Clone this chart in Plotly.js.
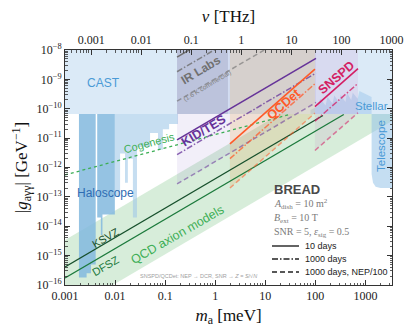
<!DOCTYPE html>
<html>
<head>
<meta charset="utf-8">
<script src="https://cdn.plot.ly/plotly-3.0.1.min.js"></script>
<style>
  html, body { margin: 0; padding: 0; background: #fff; }
  #bread { width: 407px; height: 333px; }
</style>
</head>
<body>
<div id="bread"></div>
<script>
// BREAD sensitivity plot: axion-photon coupling vs axion mass

// axes
var massTicks = [0.001, 0.01, 0.1, 1, 10, 100, 1000];
var massTickText = ['0.001', '0.01', '0.1', '1', '10', '100', '1000'];
var freqTicks = [0.001, 0.01, 0.1, 1, 10, 100, 1000];
var freqTickText = ['0.001', '0.01', '0.1', '1', '10', '100', '1000'];
var gTicks = [1e-16, 1e-15, 1e-14, 1e-13, 1e-12, 1e-11, 1e-10, 1e-9, 1e-8];
var gTickText = ['10<sup>−16</sup>', '10<sup>−15</sup>', '10<sup>−14</sup>', '10<sup>−13</sup>',
  '10<sup>−12</sup>', '10<sup>−11</sup>', '10<sup>−10</sup>', '10<sup>−9</sup>', '10<sup>−8</sup>'];
var massRange = [0.001, 3400];
var thzPerMeV = 0.3;

// existing limits
var castM = [0.001, 3400, 3400, 0.001];
var castG = [6.6e-11, 6.6e-11, 1e-7, 1e-7];

var haloDarkEdges = [0.0019, 0.0027, 0.0033, 0.0041, 0.0044, 0.0052, 0.0056, 0.0099];
var haloDarkFloor = [1.8e-16, 2.5e-16, 5e-16, 6.6e-11, 2e-14, 5e-15, 2.5e-14];
var haloLightEdges = [0.0099, 0.0126, 0.0158, 0.018, 0.0227, 0.0274, 0.05, 0.072, 0.09, 0.12, 0.18];
var haloLightFloor = [1e-13, 3e-12, 3e-13, 2e-12, 2e-14, 5e-12, 1.5e-11, 4e-12, 2e-11, 3e-11];

var telescopeM = [1330, 1330, 1420, 1600, 2000, 3400, 3400];
var telescopeG = [6.6e-11, 6e-13, 3e-13, 2.2e-13, 2e-13, 2e-13, 6.6e-11];

var stellarM = [80, 110, 125, 160, 175, 220, 240, 300, 320, 400, 430, 520, 560, 700, 760, 1330];
var stellarTop = [9e-11, 1.2e-10, 2.2e-10, 1.3e-10, 2.5e-10, 1.5e-10, 2.8e-10, 1.6e-10,
  3e-10, 1.7e-10, 3.5e-10, 2e-10, 3.5e-10, 2.2e-10, 4e-10, 2.5e-10];
var stellarFloor = 6.6e-11;

var cogenesisM = [0.001, 30];
var cogenesisG = [5.6e-13, 6.3e-11];

// QCD axion models
var qcdBandM = [0.001, 19.5, 3400, 3400, 0.001];
var qcdBandG = [3.4e-15, 6.6e-11, 6.6e-11, 3.8e-11, 1.1e-17];
var ksvzM = [0.001, 142];
var ksvzG = [4.1e-16, 5.9e-11];
var dfszM = [0.001, 370];
var dfszG = [1.74e-16, 6.4e-11];

// BREAD projections (10 days, 1000 days, 1000 days NEP/100)
var irLabsBoxM = [0.173, 1.8, 1.8, 0.173];
var irLabsBoxG = [6.6e-11, 6.6e-11, 1e-7, 1e-7];
var irLabsM = [0.173, 103];
var irLabs10 = [5.75e-9, 3.4e-6];
var irLabs1000 = [1.82e-9, 1.08e-6];
var irLabsNep = [1.82e-10, 1.08e-7];

var kidM = [0.173, 103];
var kid10 = [8.7e-12, 5.2e-9];
var kid1000 = [2.75e-12, 1.64e-9];
var kidNep = [2.75e-13, 1.64e-10];

var qcdetM = [1.97, 98.3];
var qcdet10 = [6.4e-12, 2.25e-9];
var qcdet1000 = [2.0e-12, 7.1e-10];
var qcdetNep = [2.0e-13, 7.1e-11];

var snspdM = [98.3, 711];
var snspd10 = [1.19e-10, 2.32e-9];
var snspd1000 = [3.8e-11, 7.3e-10];
var snspdNep = [3.8e-12, 7.3e-11];

// ---------------------------------------------------------------

var lg = Math.log10;
var serif = 'Liberation Serif, DejaVu Serif, serif';
var sans = 'Liberation Sans, Arial, sans-serif';

function steps(edges, floors, top) {
  var xs = [], ys = [];
  for (var i = 0; i < floors.length; i++) {
    xs.push(edges[i], edges[i + 1]);
    ys.push(floors[i], floors[i]);
  }
  xs.push(edges[edges.length - 1], edges[0]);
  ys.push(top, top);
  return {x: xs, y: ys};
}

function area(x, y, color) {
  return {x: x, y: y, type: 'scatter', mode: 'lines', fill: 'toself',
    fillcolor: color, line: {width: 0}, hoverinfo: 'skip', showlegend: false};
}

function curve(x, y, color, dash, width, opacity) {
  return {x: x, y: y, type: 'scatter', mode: 'lines',
    line: {color: color, dash: dash || 'solid', width: width || 1.5},
    opacity: opacity || 1, hoverinfo: 'skip', showlegend: false};
}

var dashDot = '6px,2px,1.5px,2px';
var dashed = '5px,3px';

var haloDark = steps(haloDarkEdges, haloDarkFloor, 6.6e-11);
var haloLight = steps(haloLightEdges, haloLightFloor, 6.6e-11);
var stellar = {
  x: stellarM.concat([1330, 80]),
  y: stellarTop.concat([stellarFloor, stellarFloor])
};

var purple = '#663399', orange = '#ff5a28', crimson = '#d41e64', grey = '#6e6e6e';

var data = [
  area(qcdBandM, qcdBandG, 'rgba(130,200,140,0.32)'),
  area(haloLight.x, haloLight.y, 'rgba(160,200,232,0.6)'),
  area(haloDark.x, haloDark.y, 'rgba(130,185,222,0.85)'),
  area(castM, castG, 'rgba(160,200,235,0.38)'),
  area(stellar.x, stellar.y, 'rgba(150,195,232,0.45)'),
  area(telescopeM, telescopeG, 'rgba(150,195,232,0.55)'),
  area(irLabsBoxM, irLabsBoxG, 'rgba(110,110,140,0.22)'),
  area(kidM.concat([kidM[1], kidM[0]]), kidNep.concat([1e-7, 1e-7]), 'rgba(140,110,200,0.11)'),
  area(qcdetM.concat([qcdetM[1], qcdetM[0]]), qcdetNep.concat([1e-7, 1e-7]), 'rgba(230,170,90,0.24)'),
  area(snspdM.concat([snspdM[1], snspdM[0]]), snspdNep.concat([1e-7, 1e-7]), 'rgba(200,110,190,0.12)'),

  curve(cogenesisM, cogenesisG, '#3cae55', 'dot', 1.3),
  curve(ksvzM, ksvzG, '#17502c', 'solid', 1.3),
  curve(dfszM, dfszG, '#1c7a3c', 'solid', 1.3),

  curve(irLabsM, irLabs10, grey, 'solid', 1.5),
  curve(irLabsM, irLabs1000, grey, dashDot, 1.5, 0.8),
  curve(irLabsM, irLabsNep, grey, dashed, 1.5, 0.6),

  curve(kidM, kid10, purple, 'solid', 1.6),
  curve(kidM, kid1000, purple, dashDot, 1.5, 0.75),
  curve(kidM, kidNep, purple, dashed, 1.5, 0.55),

  curve(qcdetM, qcdet10, orange, 'solid', 1.6),
  curve(qcdetM, qcdet1000, orange, dashDot, 1.5, 0.75),
  curve(qcdetM, qcdetNep, orange, dashed, 1.5, 0.55),

  curve(snspdM, snspd10, crimson, 'solid', 1.6),
  curve(snspdM, snspd1000, crimson, dashDot, 1.5, 0.75),
  curve(snspdM, snspdNep, crimson, dashed, 1.5, 0.55),

  // anchors the top frequency axis
  {x: [1], y: [1e-12], xaxis: 'x2', type: 'scatter', mode: 'markers',
    marker: {opacity: 0}, hoverinfo: 'skip', showlegend: false}
];

// label positions given in pixels of the 407x333 figure
function at(px, py) {
  return {xref: 'paper', yref: 'paper', x: (px - 65) / 327, y: 1 - (py - 50) / 235};
}
function label(px, py, text, color, size, angle, extra) {
  var a = at(px, py);
  a.text = text;
  a.showarrow = false;
  a.xanchor = 'center';
  a.yanchor = 'middle';
  a.textangle = angle || 0;
  a.font = {family: sans, size: size, color: color};
  for (var k in extra || {}) a[k] = extra[k];
  return a;
}

var blue = '#4a9ad6';
var left = {xanchor: 'left'};
var annotations = [
  label(103, 83, 'CAST', blue, 12),
  label(105, 193, 'Haloscope', '#2f6db3', 12),
  label(149, 143, 'Cogenesis', '#3cae55', 11, -15),
  label(201, 70, '<b>IR Labs</b>', '#707070', 12, -31),
  label(207, 86, '(1.6 K commercial)', '#808080', 6.5, -31),
  label(203, 131, '<b>KID/TES</b>', purple, 12.5, -31),
  label(284, 104, '<b>QCDet</b>', orange, 12.5, -41),
  label(336, 78, '<b>SNSPD</b>', crimson, 12.5, -41),
  label(371, 106, 'Stellar', blue, 11.5),
  label(381, 146, 'Telescope', blue, 11.5, -90),
  label(105, 238, 'KSVZ', '#17502c', 11, -30),
  label(105, 266, 'DFSZ', '#1c7a3c', 11, -30),
  label(177, 235, 'QCD axion models', '#3cae55', 12.5, -30),
  label(198, 276, 'SNSPD/QCDet: NEP → DCR, SNR → <i>Z</i> = <i>S</i>/√<i>N</i>', '#a0a0a0', 5.5),
  label(272, 189, '<b>BREAD</b>', '#4a4a4a', 13, 0, left),
  label(272, 204, '<i>A</i><sub>dish</sub> = 10 m<sup>2</sup>', '#7a7a7a', 10, 0, left),
  label(272, 218, '<i>B</i><sub>ext</sub> = 10 T', '#7a7a7a', 10, 0, left),
  label(272, 232, 'SNR = 5, <i>ε</i><sub>sig</sub> = 0.5', '#7a7a7a', 10, 0, left),
  label(303, 246, '10 days', '#222', 9, 0, left),
  label(303, 259, '1000 days', '#222', 9, 0, left),
  label(303, 272, '1000 days, NEP/100', '#222', 9, 0, left)
];
[15, 16, 17].forEach(function(i) { annotations[i].font.family = serif; });

function legendLine(py, dash) {
  var a = at(272, py), b = at(299, py);
  return {type: 'line', xref: 'paper', yref: 'paper', x0: a.x, x1: b.x, y0: a.y, y1: a.y,
    line: {color: '#222', width: 1.4, dash: dash}};
}
var shapes = [legendLine(246, 'solid'), legendLine(259, dashDot), legendLine(272, dashed)];

var tickFont = {family: serif, size: 12, color: '#222'};
var minorTicks = {ticks: 'inside', ticklen: 2.5, dtick: 'D1', tickcolor: '#333', tickwidth: 0.8};

var layout = {
  width: 407,
  height: 333,
  margin: {l: 65, r: 15, t: 50, b: 48},
  paper_bgcolor: '#fff',
  plot_bgcolor: '#fff',
  showlegend: false,
  xaxis: {
    type: 'log', range: [lg(massRange[0]), lg(massRange[1])], autorange: false,
    tickmode: 'array', tickvals: massTicks, ticktext: massTickText,
    ticks: 'inside', ticklen: 5, tickcolor: '#333', tickfont: tickFont,
    minor: minorTicks, showgrid: false, zeroline: false,
    showline: true, linecolor: '#333', linewidth: 1,
    title: {text: '<i>m</i><sub>a</sub> [meV]', font: {family: serif, size: 17, color: '#111'},
      standoff: 6}
  },
  xaxis2: {
    type: 'log', overlaying: 'x', side: 'top',
    range: [lg(massRange[0] * thzPerMeV), lg(massRange[1] * thzPerMeV)], autorange: false,
    tickmode: 'array', tickvals: freqTicks, ticktext: freqTickText,
    ticks: 'inside', ticklen: 5, tickcolor: '#333', tickfont: tickFont,
    minor: minorTicks, showgrid: false, zeroline: false,
    showline: true, linecolor: '#333', linewidth: 1,
    title: {text: '<i>ν</i> [THz]', font: {family: serif, size: 17, color: '#111'}, standoff: 6}
  },
  yaxis: {
    type: 'log', range: [-16, -8], autorange: false,
    tickmode: 'array', tickvals: gTicks, ticktext: gTickText,
    ticks: 'inside', ticklen: 5, tickcolor: '#333', tickfont: tickFont,
    minor: minorTicks, showgrid: false, zeroline: false,
    showline: true, linecolor: '#333', linewidth: 1, mirror: 'ticks',
    title: {text: '|<i>g</i><sub>aγγ</sub>| [GeV<sup>−1</sup>]',
      font: {family: serif, size: 17, color: '#111'}, standoff: 4}
  },
  annotations: annotations,
  shapes: shapes
};

Plotly.newPlot('bread', data, layout, {staticPlot: true});
</script>
</body>
</html>
